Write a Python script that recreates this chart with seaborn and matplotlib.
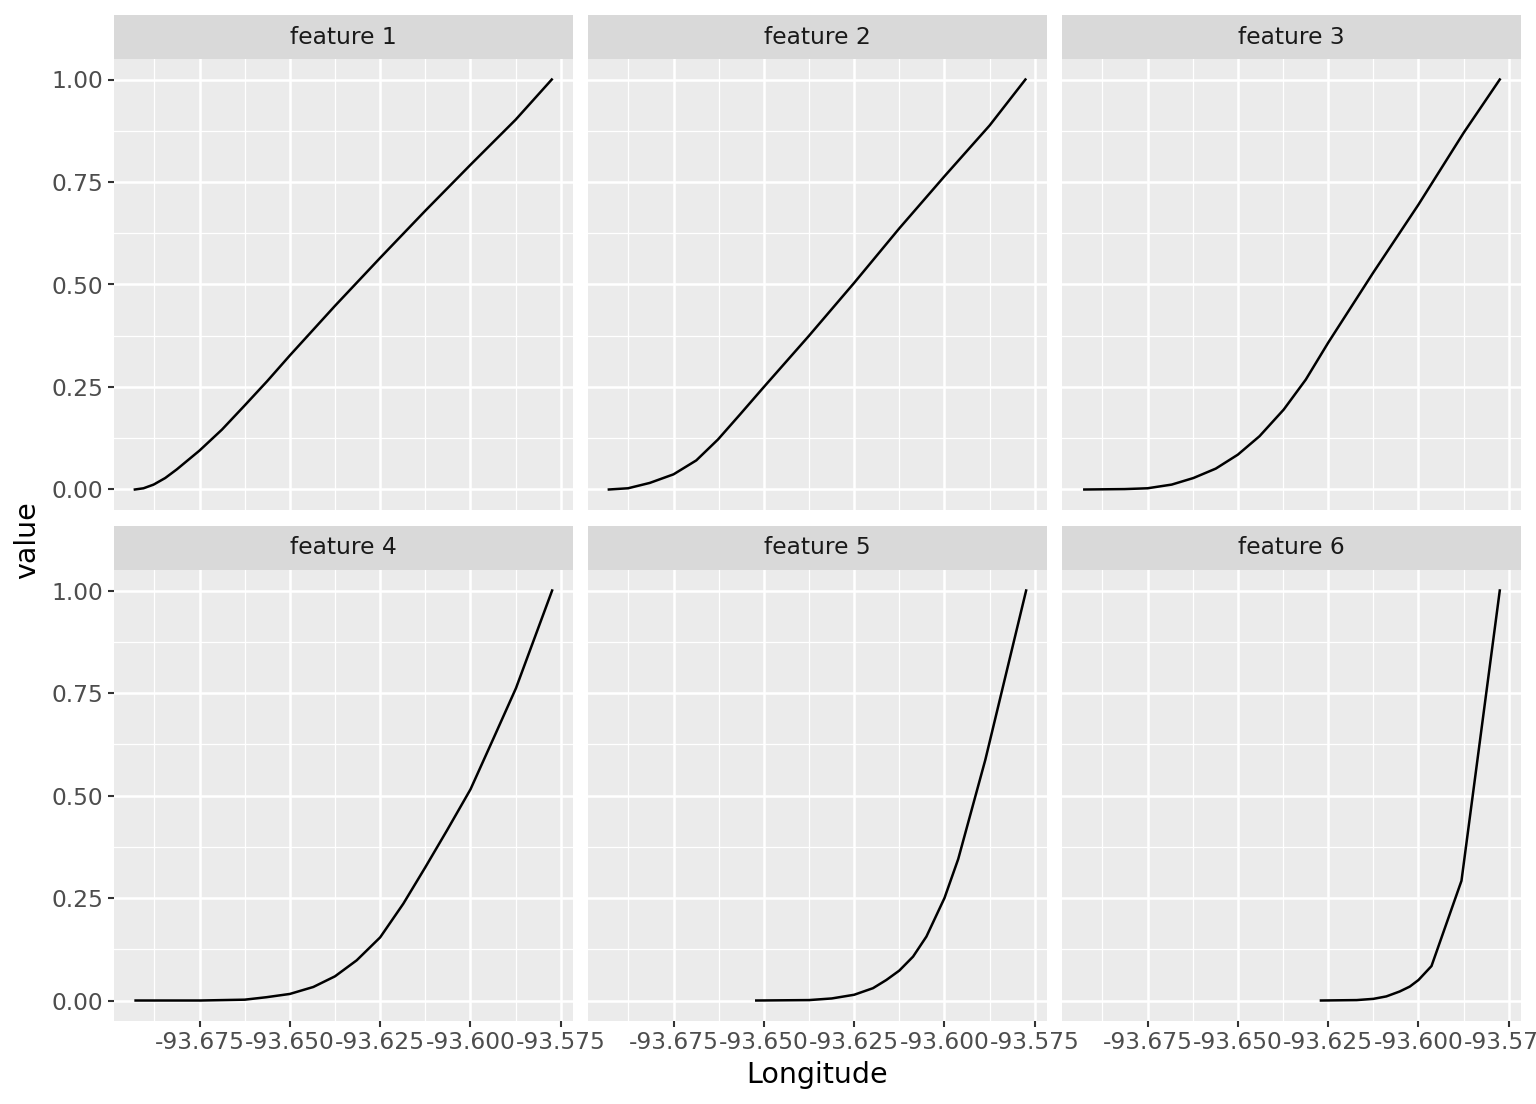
import matplotlib
matplotlib.use("Agg")
import matplotlib.pyplot as plt
import seaborn as sns
import pandas as pd

# ---- data ----
features = ["feature 1", "feature 2", "feature 3", "feature 4", "feature 5", "feature 6"]

lon_f1 = [-93.6929, -93.6905, -93.6877, -93.6845, -93.6813, -93.6750, -93.6688, -93.6625,
          -93.6563, -93.6500, -93.6375, -93.6250, -93.6125, -93.6000, -93.5875, -93.5775]
val_f1 = [0.000, 0.003, 0.012, 0.028, 0.049, 0.095, 0.146, 0.205,
          0.264, 0.327, 0.448, 0.565, 0.680, 0.792, 0.902, 1.000]

lon_f2 = [-93.6929, -93.6876, -93.6816, -93.6750, -93.6687, -93.6627, -93.6566, -93.6500,
          -93.6376, -93.6250, -93.6125, -93.6000, -93.5875, -93.5776]
val_f2 = [0.000, 0.003, 0.016, 0.037, 0.071, 0.122, 0.183, 0.250,
          0.374, 0.504, 0.637, 0.764, 0.888, 1.000]

lon_f3 = [-93.6925, -93.6813, -93.6750, -93.6683, -93.6623, -93.6561, -93.6500, -93.6440,
          -93.6373, -93.6312, -93.6250, -93.6188, -93.6126, -93.6000, -93.5875, -93.5775]
val_f3 = [0.000, 0.001, 0.003, 0.012, 0.028, 0.051, 0.085, 0.130,
          0.195, 0.268, 0.358, 0.443, 0.528, 0.695, 0.870, 1.000]

lon_f4 = [-93.6927, -93.6747, -93.6625, -93.6565, -93.6500, -93.6435, -93.6375, -93.6315,
          -93.6250, -93.6186, -93.6125, -93.6065, -93.6000, -93.5936, -93.5874, -93.5774]
val_f4 = [0.000, 0.000, 0.002, 0.008, 0.016, 0.033, 0.059, 0.098,
          0.154, 0.236, 0.325, 0.415, 0.515, 0.640, 0.762, 1.000]

lon_f5 = [-93.6521, -93.6375, -93.6312, -93.6250, -93.6198, -93.6161, -93.6125, -93.6087,
          -93.6050, -93.6000, -93.5962, -93.5887, -93.5774]
val_f5 = [0.000, 0.001, 0.005, 0.014, 0.030, 0.050, 0.073, 0.107,
          0.156, 0.250, 0.345, 0.587, 1.000]

lon_f6 = [-93.6270, -93.6171, -93.6125, -93.6089, -93.6052, -93.6024, -93.6000, -93.5964,
          -93.5881, -93.5775]
val_f6 = [0.000, 0.001, 0.004, 0.010, 0.022, 0.034, 0.050, 0.084,
          0.292, 1.000]

x_ticks = [-93.675, -93.650, -93.625, -93.600, -93.575]
x_tick_labels = ["-93.675", "-93.650", "-93.625", "-93.600", "-93.575"]
x_minor = [-93.6875, -93.6625, -93.6375, -93.6125, -93.5875]
y_ticks = [0.0, 0.25, 0.5, 0.75, 1.0]
y_tick_labels = ["0.00", "0.25", "0.50", "0.75", "1.00"]
y_minor = [0.125, 0.375, 0.625, 0.875]

lons = [lon_f1, lon_f2, lon_f3, lon_f4, lon_f5, lon_f6]
vals = [val_f1, val_f2, val_f3, val_f4, val_f5, val_f6]

rows = []
for name, lon, val in zip(features, lons, vals):
    for x, y in zip(lon, val):
        rows.append({"feature": name, "Longitude": x, "value": y})
df = pd.DataFrame(rows)

# ---- layout (pixels) ----
W, H = 1536, 1104
fig = plt.figure(figsize=(W / 100, H / 100), dpi=100)
plt.rcParams["font.family"] = ["DejaVu Sans"]

col_left = [114, 588, 1062]
panel_w = 459
strip_top = [15, 526]
strip_h = 44
panel_h = 451

xmin, xmax = df["Longitude"].min(), df["Longitude"].max()
xpad = (xmax - xmin) * 0.05

for i, name in enumerate(features):
    r, c = divmod(i, 3)
    left = col_left[c]
    top = strip_top[r] + strip_h

    ax = fig.add_axes([left / W, 1 - (top + panel_h) / H, panel_w / W, panel_h / H])
    sax = fig.add_axes([left / W, 1 - top / H, panel_w / W, strip_h / H])

    # strip
    sax.set_facecolor("#D9D9D9")
    sax.set_xticks([])
    sax.set_yticks([])
    for s in sax.spines.values():
        s.set_visible(False)
    sax.text(0.5, 0.5, name, ha="center", va="center", fontsize=16.8, color="#1A1A1A",
             transform=sax.transAxes)

    # panel
    ax.set_facecolor("#EBEBEB")
    for s in ax.spines.values():
        s.set_visible(False)
    ax.set_axisbelow(True)

    sub = df[df["feature"] == name]
    sns.lineplot(data=sub, x="Longitude", y="value", ax=ax, color="black",
                 linewidth=1.8, estimator=None, sort=False)

    ax.set_xlim(xmin - xpad, xmax + xpad)
    ax.set_ylim(-0.05, 1.05)
    ax.set_xticks(x_ticks)
    ax.set_xticks(x_minor, minor=True)
    ax.set_yticks(y_ticks)
    ax.set_yticks(y_minor, minor=True)
    ax.set_xticklabels(x_tick_labels)
    ax.set_yticklabels(y_tick_labels)
    ax.grid(which="major", color="white", linewidth=1.8)
    ax.grid(which="minor", color="white", linewidth=0.9)
    ax.set_xlabel("")
    ax.set_ylabel("")

    ax.tick_params(which="minor", length=0)
    ax.tick_params(which="major", length=4.2, width=1.5, color="#333333",
                   labelsize=16.8, labelcolor="#4D4D4D", pad=3.3)
    if c != 0:
        ax.tick_params(axis="y", left=False, labelleft=False)
    if r == 0:
        ax.tick_params(axis="x", bottom=False, labelbottom=False)

fig.text(27 / W, 1 - 540 / H, "value", rotation=90, ha="center", va="center", fontsize=20.5)
fig.text(817 / W, 1 - 1075 / H, "Longitude", ha="center", va="center", fontsize=20.5)

fig.savefig("out.png", dpi=100)
